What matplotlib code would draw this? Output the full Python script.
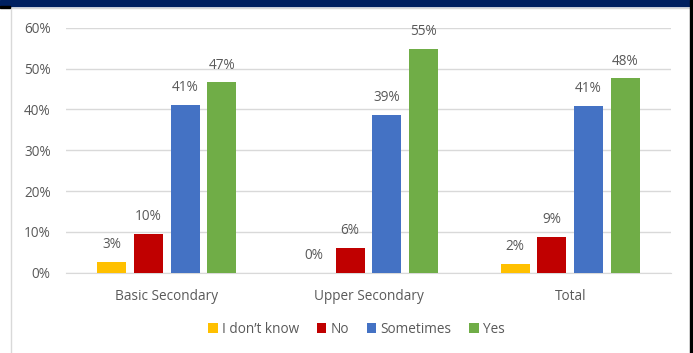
import matplotlib
matplotlib.use("Agg")
import matplotlib.pyplot as plt
from matplotlib.patches import Rectangle
import numpy as np

categories = ["Basic Secondary", "Upper Secondary", "Total"]
series_names = ["I don\u2019t know", "No", "Sometimes", "Yes"]
dont_know = [2.6, 0.0, 2.2]
no = [9.6, 6.1, 8.8]
sometimes = [41.0, 38.7, 40.9]
yes = [46.6, 54.9, 47.6]
colors = ["#FFC000", "#C00000", "#4472C4", "#70AD47"]
yticks = [0, 10, 20, 30, 40, 50, 60]

plt.rcParams['font.family'] = ['Open Sans', 'DejaVu Sans']
fig = plt.figure(figsize=(6.93, 3.53), dpi=100)
ax = fig.add_axes([66/693, 80.3/353, 605/693, 245/353])

x = np.arange(len(categories))
step = 0.182
width = 0.144
txt = "#595959"
for i, (vals, c) in enumerate(zip([dont_know, no, sometimes, yes], colors)):
    pos = x + (i - 1.5) * step
    ax.bar(pos, vals, width=width, color=c, label=series_names[i], zorder=3)
    for p, v in zip(pos, vals):
        ax.text(p, v + 2.4, f"{round(v):d}%", ha="center", va="bottom",
                fontsize=9.8, color=txt)

ax.set_xlim(-0.5, 2.5)
ax.set_ylim(0, 60)
ax.set_yticks(yticks)
ax.set_yticklabels([f"{t}%" for t in yticks])
ax.set_xticks(x)
ax.set_xticklabels(categories)
ax.tick_params(axis="both", length=0, colors=txt, labelsize=9.8)
ax.tick_params(axis="y", pad=11)
ax.tick_params(axis="x", pad=12)
ax.grid(axis="y", color="#D9D9D9", linewidth=1, zorder=0)
for s in ["top", "right", "left"]:
    ax.spines[s].set_visible(False)
ax.spines["bottom"].set_color("#D9D9D9")

leg = ax.legend(loc="upper center", bbox_to_anchor=(0.48, -0.15), ncol=4,
                frameon=False, fontsize=9.8, handlelength=0.7, handleheight=0.7,
                handletextpad=0.3, columnspacing=1.3)
for t in leg.get_texts():
    t.set_color(txt)

# frame decorations
fig.patches.append(Rectangle((0, 1 - 6/353), 1, 6/353, transform=fig.transFigure,
                             color="#002060", zorder=10))
fig.patches.append(Rectangle((1 - 3/693, 0), 3/693, 1, transform=fig.transFigure,
                             color="#000000", zorder=10))
fig.patches.append(Rectangle((0, 1 - 8/353), 10/693, 2/353, transform=fig.transFigure,
                             color="#000000", zorder=10))
fig.lines.append(plt.Line2D([10.5/693, 10.5/693], [0, 1 - 7/353], transform=fig.transFigure,
                            color="#D9D9D9", linewidth=1))
fig.lines.append(plt.Line2D([10.5/693, 1 - 3/693], [1 - 7.5/353, 1 - 7.5/353],
                            transform=fig.transFigure, color="#D9D9D9", linewidth=1))

fig.savefig("out.png", dpi=100)
